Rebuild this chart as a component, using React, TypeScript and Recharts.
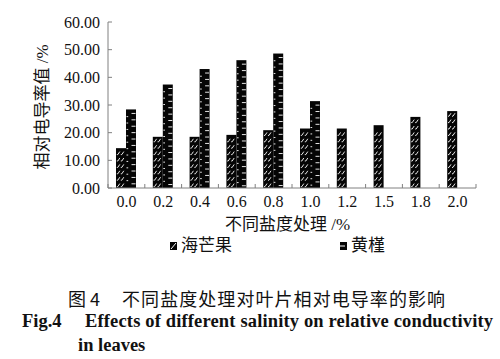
import React from 'react';
import { BarChart, Bar, XAxis, YAxis } from 'recharts';

const categories = ['0.0', '0.2', '0.4', '0.6', '0.8', '1.0', '1.2', '1.5', '1.8', '2.0'];
const haiMangGuo = [14.4, 18.5, 18.5, 19.2, 20.9, 21.5, 21.5, 22.7, 25.7, 27.8];
const huangJin: (number | null)[] = [28.4, 37.4, 43.0, 46.2, 48.6, 31.4, null, null, null, null];
const yTicks = [0, 10, 20, 30, 40, 50, 60];
const seriesNames = ['海芒果', '黄槿'];

const data = categories.map((c, i) => ({ cat: c, hai: haiMangGuo[i], huang: huangJin[i] }));

const SERIF = "'Liberation Serif', 'Noto Sans CJK SC', serif";
const CJK = "'Noto Sans CJK SC', sans-serif";
const AXIS = '#808080';
const INK = '#111';

const HaiShape = (props: any) => {
  const { x, y, width, height } = props;
  if (height == null || !(height > 0)) return null;
  const marks: React.ReactNode[] = [];
  const bottom = y + height;
  let k = 0;
  for (let r = bottom - 3; r > y + 3; r -= 6.4) {
    marks.push(
      <path
        key={k++}
        d={`M${x + 0.8} ${r + 1.6} L${x + 1.8} ${r + 1.6} L${x + 3.8} ${r - 1.4} M${x + 4.8} ${r + 1.6} L${x + 5.8} ${r + 1.6} L${x + 7.8} ${r - 1.4}`}
      />
    );
  }
  return (
    <g>
      <rect x={x} y={y} width={width} height={height} fill="#050505" />
      <g stroke="#fff" strokeWidth={0.9} fill="none">{marks}</g>
    </g>
  );
};

const HuangShape = (props: any) => {
  const { x, y, width, height } = props;
  if (height == null || !(height > 0)) return null;
  const marks: React.ReactNode[] = [];
  const bottom = y + height;
  let k = 0;
  for (let r = y + 4; r < bottom - 1; r += 6.4) {
    marks.push(<line key={k++} x1={x + width - 4.5} x2={x + width - 0.5} y1={r} y2={r} />);
    if (r + 3.2 < bottom - 1) {
      marks.push(<line key={k++} x1={x + 0.5} x2={x + 2.2} y1={r + 3.2} y2={r + 3.2} />);
    }
  }
  return (
    <g>
      <rect x={x} y={y} width={width} height={height} fill="#050505" />
      <g stroke="#fff" strokeWidth={0.9}>{marks}</g>
    </g>
  );
};

const XTick = (props: any) => {
  const { x, y, payload, index, visibleTicksCount } = props;
  const half = payload && payload.offset ? payload.offset : 18.4;
  return (
    <g>
      <line x1={x - half} x2={x - half} y1={y} y2={y - 4} stroke={AXIS} />
      {index === visibleTicksCount - 1 ? (
        <line x1={x + half} x2={x + half} y1={y} y2={y - 4} stroke={AXIS} />
      ) : null}
      <text x={x} y={y + 19} textAnchor="middle" fontFamily={SERIF} fontSize={16} fill={INK}>
        {payload.value}
      </text>
    </g>
  );
};

export default function App() {
  return (
    <div style={{ position: 'absolute', left: 0, top: 0, width: 500, height: 359, background: '#fff' }}>
      <BarChart
        width={500}
        height={359}
        data={data}
        margin={{ top: 22, right: 24, bottom: 141, left: 8 }}
        barGap={0}
      >
        <XAxis
          dataKey="cat"
          interval={0}
          stroke={AXIS}
          tickLine={false}
          tickSize={0}
          tickMargin={0}
          height={30}
          tick={<XTick />}
        />
        <YAxis
          type="number"
          domain={[0, 60]}
          ticks={yTicks}
          width={100}
          stroke={AXIS}
          tickSize={-4}
          tickMargin={12}
          tickFormatter={(v: number) => v.toFixed(2)}
          tick={{ fontSize: 16, fontFamily: SERIF, fill: INK }}
        />
        <Bar dataKey="hai" name={seriesNames[0]} barSize={10} isAnimationActive={false} shape={<HaiShape />} />
        <Bar dataKey="huang" name={seriesNames[1]} barSize={10} isAnimationActive={false} shape={<HuangShape />} />
      </BarChart>
      <svg
        width={500}
        height={359}
        style={{ position: 'absolute', left: 0, top: 0, pointerEvents: 'none' }}
      >
        <text
          x={42}
          y={107}
          transform="rotate(-90 42 107)"
          textAnchor="middle"
          dominantBaseline="central"
          fontFamily={SERIF}
          fontSize={17}
          fill={INK}
        >
          相对电导率值 /%
        </text>
        <text x={287.5} y={230} textAnchor="middle" fontFamily={SERIF} fontSize={17} fill={INK}>
          不同盐度处理 /%
        </text>
        {/* legend */}
        <g>
          <rect x={170} y={242} width={7} height={8} fill="#050505" />
          <path d="M171 249 L176 243" stroke="#fff" strokeWidth={1} />
          <text x={181} y={251} fontFamily={CJK} fontSize={17} fill={INK}>{seriesNames[0]}</text>
          <rect x={340} y={242} width={7} height={8} fill="#050505" />
          <line x1={340} x2={345} y1={246} y2={246} stroke="#fff" strokeWidth={1} />
          <text x={351} y={251} fontFamily={CJK} fontSize={17} fill={INK}>{seriesNames[1]}</text>
        </g>
        {/* caption */}
        <text x={68} y={306} fontFamily={CJK} fontSize={18} fill={INK}>图</text>
        <text x={90} y={306} fontFamily={CJK} fontSize={18} fill={INK}>4</text>
        <text x={122} y={306} fontFamily={CJK} fontSize={18} fill={INK} textLength={323} lengthAdjust="spacing">
          不同盐度处理对叶片相对电导率的影响
        </text>
        <text x={22} y={327} fontFamily={SERIF} fontWeight="bold" fontSize={18.5} fill={INK}>Fig.4</text>
        <text x={85} y={327} fontFamily={SERIF} fontWeight="bold" fontSize={18.5} fill={INK} textLength={408} lengthAdjust="spacing">
          Effects of different salinity on relative conductivity
        </text>
        <text x={78} y={351} fontFamily={SERIF} fontWeight="bold" fontSize={18.5} fill={INK}>in leaves</text>
      </svg>
    </div>
  );
}
